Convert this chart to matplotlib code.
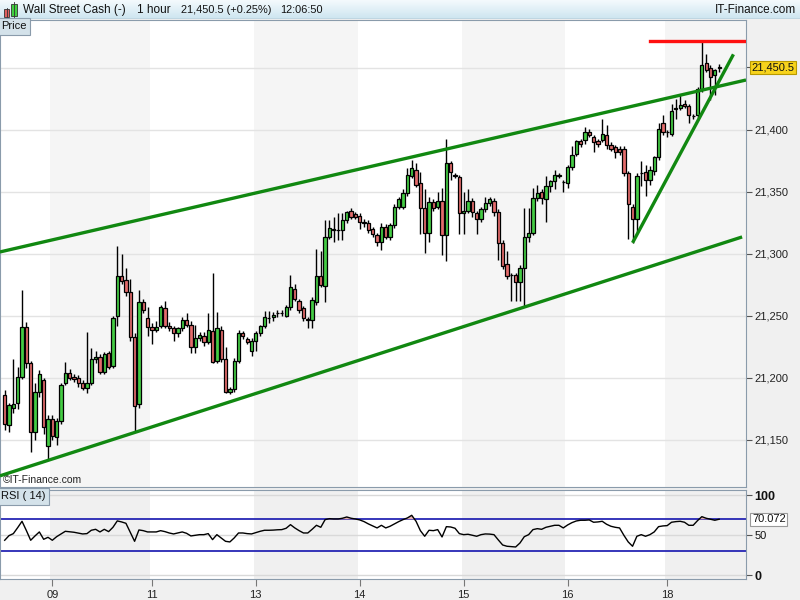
import numpy as np
import matplotlib.pyplot as plt
from matplotlib.patches import Rectangle
from matplotlib.colors import LinearSegmentedColormap

plt.rcParams['font.family'] = ['Liberation Sans', 'DejaVu Sans']

# hourly candles
opens = [
    21186, 21162, 21176, 21180, 21201, 21241, 21212, 21156, 21189, 21198,
    21145, 21167, 21152, 21165, 21196, 21204, 21201, 21200, 21196, 21192,
    21196, 21215, 21217, 21205, 21220, 21210, 21250, 21282, 21279, 21269,
    21233, 21179, 21261, 21248, 21241, 21239, 21242, 21256, 21242, 21240,
    21236, 21240, 21247, 21243, 21225, 21232, 21234, 21229, 21238, 21214,
    21239, 21215, 21189, 21191, 21214, 21236, 21231, 21222, 21230, 21236,
    21242, 21248, 21249, 21252, 21252, 21250, 21257, 21272, 21262, 21256,
    21247, 21247, 21261, 21282, 21274, 21314, 21320, 21319, 21319, 21327,
    21335, 21332, 21331, 21326, 21325, 21320, 21315, 21310, 21322, 21314,
    21323, 21338, 21338, 21349, 21363, 21368, 21357, 21337, 21317, 21342,
    21338, 21343, 21315, 21373, 21363, 21362, 21333, 21335, 21343, 21333,
    21328, 21336, 21341, 21343, 21334, 21309, 21292, 21283, 21283, 21277,
    21289, 21314, 21317, 21345, 21350, 21344, 21355, 21359, 21363, 21358,
    21357, 21370, 21381, 21391, 21392, 21398, 21394, 21391, 21392, 21396,
    21388, 21386, 21385, 21385, 21365, 21338, 21328, 21365, 21366, 21360,
    21367, 21378, 21406, 21398, 21397, 21417, 21418, 21421, 21419, 21411,
    21412, 21433, 21454, 21450, 21444, 21450]
closes = [
    21163, 21178, 21179, 21201, 21241, 21212, 21156, 21189, 21203, 21160,
    21167, 21153, 21165, 21194, 21204, 21200, 21199, 21196, 21192, 21196,
    21215, 21217, 21205, 21219, 21209, 21248, 21282, 21278, 21269, 21233,
    21177, 21261, 21255, 21241, 21239, 21241, 21257, 21242, 21240, 21236,
    21240, 21247, 21243, 21225, 21232, 21235, 21229, 21239, 21213, 21240,
    21215, 21189, 21191, 21214, 21236, 21234, 21229, 21230, 21236, 21242,
    21249, 21248, 21251, 21252, 21252, 21257, 21273, 21264, 21255, 21248,
    21247, 21263, 21282, 21275, 21314, 21321, 21319, 21319, 21327, 21334,
    21330, 21330, 21326, 21325, 21319, 21316, 21310, 21322, 21314, 21323,
    21338, 21344, 21349, 21364, 21369, 21356, 21337, 21317, 21342, 21337,
    21343, 21315, 21373, 21366, 21363, 21333, 21335, 21343, 21334, 21328,
    21336, 21341, 21344, 21334, 21309, 21290, 21282, 21283, 21277, 21289,
    21314, 21317, 21345, 21349, 21345, 21355, 21359, 21364, 21363, 21358,
    21370, 21380, 21391, 21389, 21398, 21396, 21390, 21389, 21397, 21388,
    21385, 21382, 21382, 21365, 21340, 21328, 21363, 21365, 21360, 21368,
    21378, 21401, 21398, 21398, 21415, 21417, 21420, 21419, 21412, 21411,
    21433, 21452, 21448, 21443, 21448, 21450.5]
highs = [
    21190, 21180, 21215, 21209, 21271, 21245, 21214, 21196, 21206, 21200,
    21170, 21170, 21168, 21196, 21213, 21207, 21203, 21202, 21198, 21237,
    21224, 21222, 21219, 21221, 21222, 21250, 21306, 21300, 21289, 21280,
    21236, 21271, 21264, 21257, 21244, 21246, 21259, 21262, 21245, 21242,
    21241, 21249, 21252, 21246, 21243, 21237, 21237, 21252, 21285, 21253,
    21242, 21225, 21193, 21216, 21239, 21238, 21233, 21232, 21238, 21243,
    21254, 21254, 21253, 21255, 21255, 21259, 21283, 21276, 21264, 21258,
    21249, 21265, 21304, 21302, 21327, 21327, 21330, 21333, 21333, 21335,
    21337, 21334, 21333, 21328, 21327, 21322, 21317, 21325, 21324, 21325,
    21340, 21346, 21352, 21369, 21376, 21373, 21366, 21352, 21346, 21344,
    21350, 21353, 21393, 21375, 21365, 21364, 21350, 21352, 21345, 21335,
    21338, 21346, 21346, 21345, 21336, 21311, 21302, 21285, 21285, 21291,
    21337, 21337, 21353, 21356, 21352, 21363, 21360, 21368, 21365, 21360,
    21372, 21387, 21392, 21393, 21402, 21401, 21396, 21393, 21409, 21404,
    21390, 21388, 21387, 21387, 21367, 21340, 21365, 21375, 21372, 21371,
    21379, 21406, 21412, 21400, 21421, 21425, 21428, 21424, 21421, 21413,
    21435, 21471, 21461, 21452, 21449, 21453]
lows = [
    21158, 21156, 21172, 21175, 21199, 21208, 21140, 21150, 21185, 21155,
    21134, 21150, 21146, 21163, 21194, 21198, 21197, 21193, 21190, 21188,
    21194, 21212, 21203, 21203, 21207, 21208, 21242, 21276, 21266, 21230,
    21157, 21176, 21252, 21234, 21227, 21237, 21240, 21240, 21238, 21230,
    21233, 21238, 21241, 21220, 21220, 21230, 21226, 21227, 21212, 21212,
    21213, 21188, 21187, 21189, 21212, 21231, 21227, 21218, 21222, 21234,
    21240, 21244, 21246, 21249, 21250, 21249, 21255, 21262, 21252, 21246,
    21240, 21240, 21259, 21273, 21261, 21312, 21310, 21311, 21311, 21325,
    21328, 21328, 21320, 21322, 21317, 21314, 21306, 21303, 21312, 21311,
    21321, 21336, 21336, 21347, 21361, 21354, 21316, 21301, 21310, 21335,
    21336, 21299, 21294, 21360, 21361, 21316, 21316, 21333, 21330, 21316,
    21326, 21334, 21339, 21331, 21295, 21288, 21280, 21262, 21262, 21262,
    21258, 21310, 21315, 21343, 21340, 21326, 21350, 21352, 21361, 21350,
    21353, 21368, 21379, 21386, 21389, 21394, 21382, 21386, 21390, 21385,
    21383, 21377, 21380, 21363, 21312, 21309, 21318, 21355, 21347, 21356,
    21364, 21376, 21396, 21394, 21395, 21409, 21416, 21418, 21406, 21409,
    21410, 21431, 21447, 21424, 21428, 21447]

# RSI(14) as plotted below the price
rsi = [
    43.8, 49.6, 52.1, 59.6, 67.5, 56.0, 43.8, 49.2, 54.2, 45.0,
    47.5, 43.8, 48.3, 51.7, 55.0, 54.4, 53.8, 52.7, 51.7, 52.1,
    56.3, 57.5, 54.2, 57.5, 54.6, 60.0, 68.0, 66.7, 65.0, 53.8,
    42.5, 56.7, 55.8, 54.2, 54.2, 54.2, 55.8, 54.6, 52.9, 51.7,
    52.9, 54.2, 52.5, 49.2, 50.0, 50.8, 50.8, 52.1, 44.6, 50.8,
    46.7, 42.5, 41.7, 46.7, 52.9, 52.9, 52.1, 51.7, 53.3, 55.0,
    56.3, 56.3, 56.5, 56.9, 57.1, 58.8, 63.3, 59.2, 55.8, 52.9,
    52.9, 57.5, 62.5, 60.0, 69.6, 70.8, 70.4, 70.4, 71.3, 72.9,
    71.3, 70.4, 69.2, 67.1, 64.2, 61.7, 59.2, 62.5, 59.2, 61.3,
    64.2, 67.1, 69.6, 71.7, 75.0, 67.5, 55.8, 48.8, 56.3, 55.8,
    57.1, 47.9, 60.8, 60.4, 58.8, 52.1, 50.8, 51.3, 50.0, 48.8,
    50.8, 51.7, 51.5, 50.8, 44.2, 37.9, 36.3, 35.8, 35.4, 40.4,
    48.3, 50.8, 57.1, 58.3, 57.5, 60.0, 61.3, 62.5, 62.5, 59.2,
    62.9, 65.8, 67.9, 68.8, 68.8, 69.2, 66.3, 66.7, 67.5, 63.8,
    61.3, 60.0, 59.2, 50.0, 41.7, 36.3, 48.8, 50.8, 48.8, 50.8,
    54.2, 60.8, 61.7, 62.1, 66.3, 67.1, 67.5, 66.3, 62.5, 62.5,
    68.3, 73.3, 71.3, 70.0, 68.8, 70.072]

day_starts = [11, 34, 58, 82, 106, 130, 153]
day_labels = ['09', '11', '13', '14', '15', '16', '18']
shaded_days = [(11, 34), (58, 82), (106, 130), (153, 172)]
price_grid = [21150, 21200, 21250, 21300, 21350, 21400, 21450]
price_labels = [21150, 21200, 21250, 21300, 21350, 21400]   # 21,450 is hidden by the last-price box
last_price = 21450.5
last_rsi = 70.072

# drawn lines: (x0, y0, x1, y1) in bar index / price
channel_top = (-1.1, 21301.6, 171.2, 21440.3)
channel_bottom = (-1.1, 21121.0, 170.3, 21313.7)
steep_line = (145.0, 21309.0, 168.3, 21461.0)
resistance = (149.0, 171.2, 21471.5)

n = len(closes)
x = np.arange(n)
o = np.array(opens, float)
c = np.array(closes, float)
h = np.array(highs, float)
l = np.array(lows, float)
r = np.array(rsi, float)

W, H = 800, 600
edge = '#8a9bab'
fig = plt.figure(figsize=(8, 6), dpi=100, facecolor='#f0f0f0')

# header bar
axh = fig.add_axes([0, 1 - 19 / H, 1, 19 / H])
cmap = LinearSegmentedColormap.from_list('hdr', ['#f4fafd', '#cde5f0'])
axh.imshow(np.linspace(0, 1, 30)[:, None], cmap=cmap, aspect='auto', extent=[0, 1, 0, 1])
axh.set_xlim(0, 1)
axh.set_ylim(0, 1)
axh.axis('off')
axh.axhline(0.02, color=edge, lw=1)
axh.add_patch(Rectangle((4 / W, 1 - 17 / 19), 5 / W, 8 / 19, fc='#e06060', ec='#333', lw=0.6))
axh.add_patch(Rectangle((11 / W, 1 - 16 / 19), 6 / W, 12 / 19, fc='#40d040', ec='#333', lw=0.6))
axh.plot([6.5 / W, 6.5 / W], [1 - 19 / 19, 1 - 8 / 19], color='#333', lw=0.6)
axh.plot([14 / W, 14 / W], [1 - 18 / 19, 1 - 2 / 19], color='#333', lw=0.6)
for px, s, fs in [(23, 'Wall Street Cash (-)', 8.5), (137, '1 hour', 8.5),
                  (181, '21,450.5 (+0.25%)', 7.9), (280, '12:06:50', 7.9)]:
    axh.text(px / W, 0.45, s, fontsize=fs, va='center', ha='left', color='#111')
axh.text(796 / W, 0.45, 'IT-Finance.com', fontsize=8.5, va='center', ha='right', color='#111')

# price panel
ax = fig.add_axes([0, 1 - 487 / H, 746 / W, 467 / H])
ax.set_facecolor('white')
for a, b in shaded_days:
    ax.axvspan(a - 0.5, b - 0.5, color='#f5f5f5', lw=0, zorder=0)
for p in price_grid:
    ax.axhline(p, color='#e3e3e3', lw=1, zorder=0.5)

up = c >= o
ax.vlines(x, l, h, color='black', lw=1.0, zorder=2)
body_low = np.minimum(o, c)
body_h = np.maximum(np.abs(c - o), 0.4)
ax.bar(x, body_h, bottom=body_low, width=0.76,
       color=np.where(up, '#44cc44', '#e46c6c'), edgecolor='black', lw=0.9, zorder=3)

green = '#118811'
for x0, y0, x1, y1 in [channel_top, channel_bottom, steep_line]:
    ax.plot([x0, x1], [y0, y1], color=green, lw=2.4, solid_capstyle='butt', zorder=4)
ax.plot([resistance[0], resistance[1]], [resistance[2], resistance[2]],
        color='#ff1010', lw=2.4, zorder=4)

ax.set_xlim(-1.085, 171.2)
ax.set_ylim(21112, 21488.7)
ax.yaxis.tick_right()
ax.set_yticks(price_labels)
ax.set_yticklabels([f'{p:,}' for p in price_labels])
ax.tick_params(axis='y', length=4, width=0.8, color='#555', pad=2, labelsize=8, labelcolor='#222')
ax.set_xticks([])
for s in ax.spines.values():
    s.set_color(edge)
ax.text(0.0015, 0.997, 'Price', transform=ax.transAxes, va='top', ha='left', fontsize=8,
        color='#111', bbox=dict(boxstyle='square,pad=0.3', fc='#d4e2ea', ec=edge, lw=0.8))
ax.text(0.004, 0.004, '\u00a9IT-Finance.com', transform=ax.transAxes, va='bottom', ha='left',
        fontsize=7.5, color='#222')
ax.plot([1.0, 1.005], [last_price, last_price], transform=ax.get_yaxis_transform(),
        color='#555', lw=0.8, clip_on=False)
ax.text(1.007, last_price, f'{last_price:,.1f}', transform=ax.get_yaxis_transform(),
        va='center', ha='left', fontsize=8, color='#111', clip_on=False,
        bbox=dict(boxstyle='square,pad=0.15', fc='#f7d31c', ec='#b89a00', lw=0.8))

# RSI panel
axr = fig.add_axes([0, 1 - 579 / H, 746 / W, 89 / H])
axr.set_facecolor('white')
for a, b in shaded_days:
    axr.axvspan(a - 0.5, b - 0.5, color='#f0f0f0', lw=0, zorder=0)
for v in [0, 50, 100]:
    axr.axhline(v, color='#d9d9d9', lw=1, zorder=0.5)
for v in [30, 70]:
    axr.axhline(v, color='#2626b4', lw=1.3, zorder=1)
axr.fill_between(x, r, 70, where=r > 70, interpolate=True, color='#e4b0b0', lw=0, zorder=1.5)
axr.plot(x, r, color='black', lw=1, zorder=2)
axr.set_xlim(-1.085, 171.2)
axr.set_ylim(-4.6, 106.6)
axr.yaxis.tick_right()
axr.set_yticks([0, 50, 100])
axr.set_yticklabels(['0', '50', '100'])
axr.tick_params(axis='y', length=4, width=0.8, color='#555', pad=2, labelsize=8, labelcolor='#111')
for t in axr.get_yticklabels():
    if t.get_text() in ('0', '100'):
        t.set_fontweight('bold')
        t.set_fontsize(9)
axr.set_xticks(day_starts)
axr.set_xticklabels(day_labels)
axr.tick_params(axis='x', length=5, width=0.8, color='#777', pad=3, labelsize=8, labelcolor='#222')
for s in axr.spines.values():
    s.set_color(edge)
axr.text(0.0015, 0.985, 'RSI ( 14)', transform=axr.transAxes, va='top', ha='left', fontsize=8,
         color='#111', bbox=dict(boxstyle='square,pad=0.3', fc='#d4e2ea', ec=edge, lw=0.8))
axr.text(1.008, last_rsi, f'{last_rsi:.3f}', transform=axr.get_yaxis_transform(),
         va='center', ha='left', fontsize=8, color='#111', clip_on=False,
         bbox=dict(boxstyle='square,pad=0.15', fc='white', ec='#999', lw=0.8))

fig.savefig('out.png', dpi=100, facecolor=fig.get_facecolor())
